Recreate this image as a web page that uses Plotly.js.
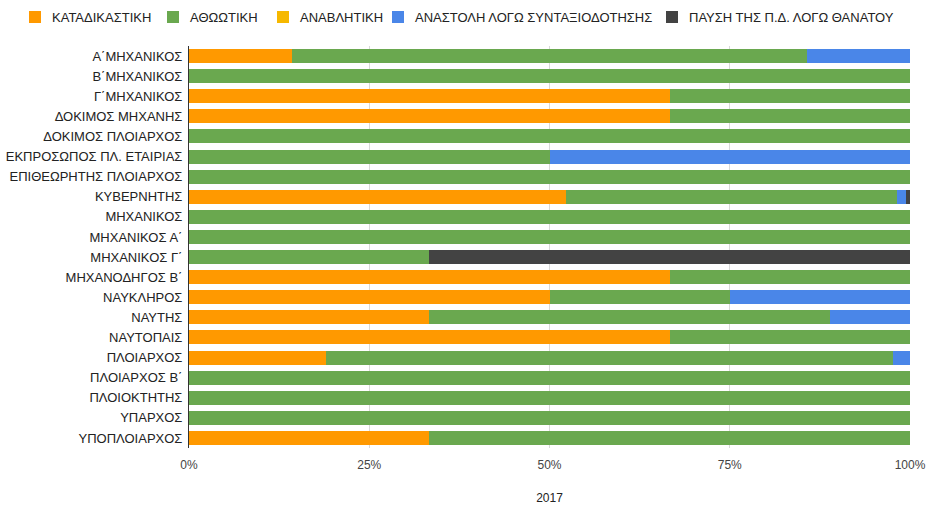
<!DOCTYPE html>
<html><head><meta charset="utf-8">
<script src="https://cdn.plot.ly/plotly-3.0.1.min.js"></script>
<style>html,body{margin:0;padding:0;background:#fff}</style>
</head><body><div id="chart" style="width:927px;height:508px"></div>
<script>
var categories = ["Α΄ΜΗΧΑΝΙΚΟΣ","Β΄ΜΗΧΑΝΙΚΟΣ","Γ΄ΜΗΧΑΝΙΚΟΣ","ΔΟΚΙΜΟΣ ΜΗΧΑΝΗΣ","ΔΟΚΙΜΟΣ ΠΛΟΙΑΡΧΟΣ","ΕΚΠΡΟΣΩΠΟΣ ΠΛ. ΕΤΑΙΡΙΑΣ","ΕΠΙΘΕΩΡΗΤΗΣ ΠΛΟΙΑΡΧΟΣ","ΚΥΒΕΡΝΗΤΗΣ","ΜΗΧΑΝΙΚΟΣ","ΜΗΧΑΝΙΚΟΣ Α΄","ΜΗΧΑΝΙΚΟΣ Γ΄","ΜΗΧΑΝΟΔΗΓΟΣ Β΄","ΝΑΥΚΛΗΡΟΣ","ΝΑΥΤΗΣ","ΝΑΥΤΟΠΑΙΣ","ΠΛΟΙΑΡΧΟΣ","ΠΛΟΙΑΡΧΟΣ Β΄","ΠΛΟΙΟΚΤΗΤΗΣ","ΥΠΑΡΧΟΣ","ΥΠΟΠΛΟΙΑΡΧΟΣ"];
var seriesNames = ["ΚΑΤΑΔΙΚΑΣΤΙΚΗ","ΑΘΩΩΤΙΚΗ","ΑΝΑΒΛΗΤΙΚΗ","ΑΝΑΣΤΟΛΗ ΛΟΓΩ ΣΥΝΤΑΞΙΟΔΟΤΗΣΗΣ","ΠΑΥΣΗ ΤΗΣ Π.Δ. ΛΟΓΩ ΘΑΝΑΤΟΥ"];
var katadikastiki = [1,0,2,2,0,0,0,89,0,0,0,2,2,3,2,8,0,0,0,1];
var athootiki      = [5,1,1,1,1,1,1,78,1,1,1,1,1,5,1,33,1,1,1,2];
var anavlitiki     = [0,0,0,0,0,0,0,0,0,0,0,0,0,0,0,0,0,0,0,0];
var anastoli       = [1,0,0,0,0,1,0,2,0,0,0,0,1,1,0,1,0,0,0,0];
var pafsi          = [0,0,0,0,0,0,0,1,0,0,2,0,0,0,0,0,0,0,0,0];
var xTickVals = [0,25,50,75,100];
var xTickText = ["0%","25%","50%","75%","100%"];
var xTitle = "2017";

var seriesValues = [katadikastiki, athootiki, anavlitiki, anastoli, pafsi];
var colors = ["#ff9900","#6aa84f","#f6b800","#4a86e8","#434343"];
var traces = seriesValues.map(function(v,i){
  return {type:'bar', orientation:'h', name:seriesNames[i], y:categories, x:v,
          marker:{color:colors[i]}, hoverinfo:'name+x', showlegend:false};
});

// manual legend layout (pixel positions converted to paper coords)
var W = 927, H = 508, mL = 189, mR = 17, mT = 46, mB = 60;
var pw = W - mL - mR, ph = H - mT - mB;
function px(x){ return (x - mL) / pw; }
function py(y){ return (H - mB - y) / ph; }
var legendSquareX = [29, 167, 277, 392, 666];
var legendY = 17, sq = 12;
var shapes = [], annotations = [];
seriesNames.forEach(function(n,i){
  var x0 = legendSquareX[i];
  shapes.push({type:'rect', xref:'paper', yref:'paper', x0:px(x0), x1:px(x0+sq),
               y0:py(legendY+sq/2), y1:py(legendY-sq/2), fillcolor:colors[i], line:{width:0}});
  annotations.push({xref:'paper', yref:'paper', x:px(x0+sq+9), y:py(legendY), xanchor:'left', yanchor:'middle',
                    text:n, showarrow:false, font:{size:13, color:'#222'}});
});

var layout = {
  width:W, height:H,
  margin:{l:mL, r:mR, t:mT, b:mB},
  barmode:'stack', barnorm:'percent', bargap:0.3,
  font:{family:'Liberation Sans, Arial, sans-serif', size:13, color:'#222'},
  paper_bgcolor:'#fff', plot_bgcolor:'#fff',
  showlegend:false,
  shapes:shapes, annotations:annotations,
  xaxis:{range:[0,100], tickvals:xTickVals, ticktext:xTickText, showgrid:true,
         gridcolor:'#d9d9d9', zeroline:false, showline:false,
         tickfont:{size:12, color:'#444'}, ticks:'', ticklabelstandoff:8,
         title:{text:xTitle, font:{size:12, color:'#222'}, standoff:22}, automargin:false},
  yaxis:{autorange:'reversed', showline:true, linecolor:'#333', linewidth:1,
         ticks:'', ticklen:0, tickfont:{size:13, color:'#222'}, showgrid:false,
         ticklabelstandoff:3, automargin:false}
};
Plotly.newPlot('chart', traces, layout, {displayModeBar:false, staticPlot:true});
</script></body></html>
